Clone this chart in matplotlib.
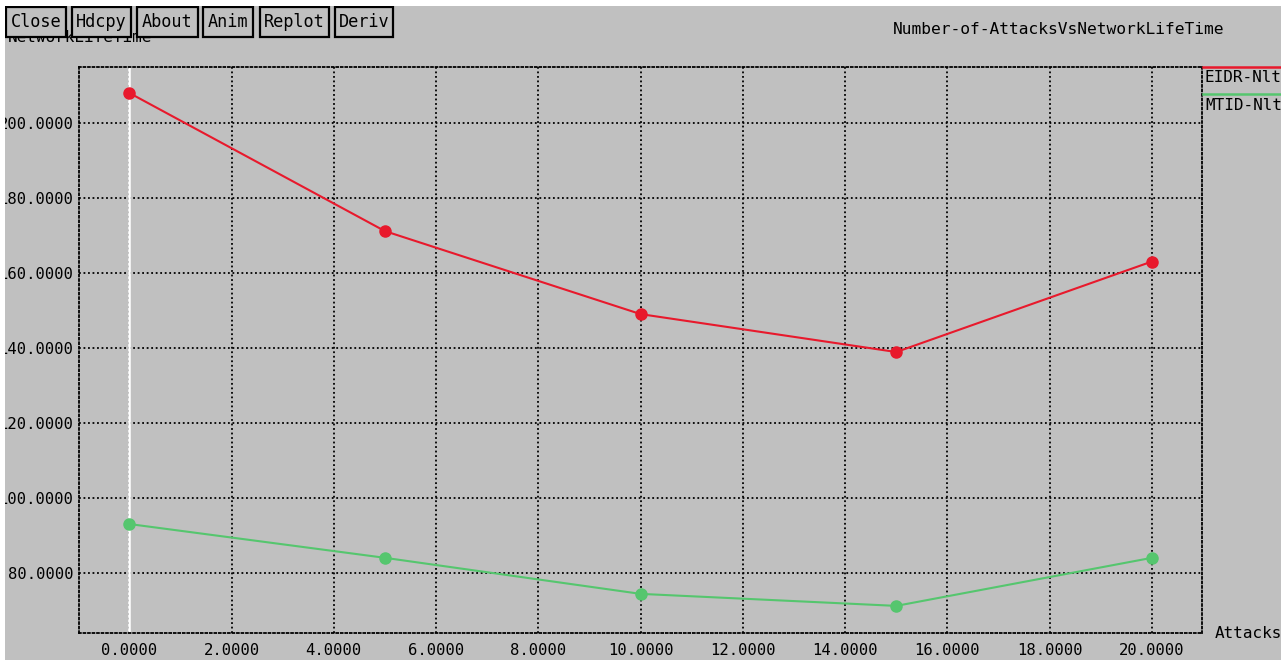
import matplotlib
matplotlib.use("Agg")
import matplotlib.pyplot as plt
from matplotlib.patches import Rectangle
from matplotlib.ticker import FormatStrFormatter

# ---- data ----
attacks = [0, 5, 10, 15, 20]
eidr_nlt = [207.9, 171.1, 149.0, 138.9, 163.0]
mtid_nlt = [93.1, 84.1, 74.5, 71.3, 84.1]
series_names = ["EIDR-Nlt", "MTID-Nlt"]
x_ticks = [0, 2, 4, 6, 8, 10, 12, 14, 16, 18, 20]
y_ticks = [80, 100, 120, 140, 160, 180, 200]
buttons = ["Close", "Hdcpy", "About", "Anim", "Replot", "Deriv"]
title = "Number-of-AttacksVsNetworkLifeTime"
xlabel = "Attacks"
ylabel = "NetworkLifeTime"

W, H = 1287, 667
GRAY = "#c0c0c0"
RED = "#e8192c"
GREEN = "#55c66e"
FONT = "DejaVu Sans Mono"
FS = 11.2

plt.rcParams["font.family"] = FONT

fig = plt.figure(figsize=(W / 100, H / 100), dpi=100)
fig.patch.set_facecolor("white")

def fx(x):
    return x / W

def fy(y):
    return 1 - y / H

# gray window background
fig.patches.append(Rectangle((fx(5), fy(660)), fx(1281) - fx(5), fy(6) - fy(660),
                             transform=fig.transFigure, facecolor=GRAY,
                             edgecolor="none", zorder=-10))

ax = fig.add_axes([fx(79), fy(633.3), fx(1202) - fx(79), fy(67) - fy(633.3)])
ax.set_facecolor(GRAY)
ax.set_xlim(-0.983, 20.98)
ax.set_ylim(64.0, 214.8)
ax.set_xticks(x_ticks)
ax.set_yticks(y_ticks)
ax.xaxis.set_major_formatter(FormatStrFormatter("%.4f"))
ax.yaxis.set_major_formatter(FormatStrFormatter("%.4f"))
ax.tick_params(length=0, labelsize=FS, colors="black")
ax.tick_params(axis="x", pad=7)
ax.tick_params(axis="y", pad=4)
ax.grid(True, color="black", linestyle=(0, (1, 1.5)), linewidth=1.3)
for sp in ax.spines.values():
    sp.set_linestyle((0, (1, 1.5)))
    sp.set_linewidth(1.3)
    sp.set_color("black")

ax.axvline(0, color="white", linewidth=1.8, zorder=2)

ax.plot(attacks, eidr_nlt, color=RED, linewidth=1.5, marker="o", markersize=8, zorder=3)
ax.plot(attacks, mtid_nlt, color=GREEN, linewidth=1.5, marker="o", markersize=8, zorder=3)

# legend (xgraph style)
leg_y = [67, 94]
for name, col, ly in zip(series_names, [RED, GREEN], leg_y):
    fig.lines.append(plt.Line2D([fx(1203), fx(1281)], [fy(ly), fy(ly)],
                                transform=fig.transFigure, color=col, linewidth=1.8))
    fig.text(fx(1205), fy(ly + 11), name, fontsize=FS + 0.3, va="center", ha="left",
             color="black")

# axis labels and title
fig.text(fx(1215), fy(634), xlabel, fontsize=FS + 0.3, va="center", ha="left")
fig.text(fx(8), fy(38), ylabel, fontsize=FS + 0.3, va="center", ha="left", zorder=1)
fig.text(fx(893), fy(30), title, fontsize=11.7, va="center", ha="left")

# buttons
btn_x = [(6, 66), (72, 131), (137, 198), (203, 253), (260, 329), (335, 393)]
for label, (x0, x1) in zip(buttons, btn_x):
    fig.patches.append(Rectangle((fx(x0), fy(37)), fx(x1) - fx(x0), fy(7) - fy(37),
                                 transform=fig.transFigure, facecolor=GRAY,
                                 edgecolor="black", linewidth=1.6, zorder=5))
    fig.text(fx((x0 + x1) / 2), fy(22), label, fontsize=FS + 1, va="center",
             ha="center", zorder=6)

# white outer borders (clip window)
for (x0, y0, x1, y1) in [(0, 0, 5, H), (1281, 0, W, H), (0, 0, W, 6), (0, 660, W, H)]:
    fig.patches.append(Rectangle((fx(x0), fy(y1)), fx(x1) - fx(x0), fy(y0) - fy(y1),
                                 transform=fig.transFigure, facecolor="white",
                                 edgecolor="none", zorder=20))

fig.savefig("out.png", dpi=100, facecolor="white")
